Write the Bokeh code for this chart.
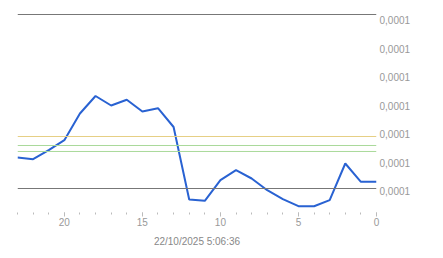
from bokeh.plotting import figure
from bokeh.models import Span, FixedTicker, CustomJSTickFormatter, LinearAxis, Range1d
from bokeh.embed import file_html
from bokeh.resources import INLINE

# data (x = time offset, reversed axis)
x_vals = list(range(23, -1, -1))
y_vals = [8.193e-5, 8.133e-5, 8.449e-5, 8.80e-5, 9.737e-5, 10.351e-5, 10.018e-5, 10.218e-5,
          9.807e-5, 9.923e-5, 9.263e-5, 6.719e-5, 6.674e-5, 7.396e-5, 7.747e-5, 7.456e-5,
          7.046e-5, 6.73e-5, 6.484e-5, 6.484e-5, 6.695e-5, 7.982e-5, 7.340e-5, 7.340e-5]
y_ticks = [7e-5, 8e-5, 9e-5, 10e-5, 11e-5, 12e-5, 13e-5]
x_major = [0, 5, 10, 15, 20]
x_minor = list(range(0, 24))
ref_gray = [13.21e-5, 7.105e-5]
ref_yellow = [8.93e-5]
ref_green = [8.614e-5, 8.404e-5]
x_title = "22/10/2025 5:06:36"

p = figure(width=443, height=258, output_backend="svg", toolbar_location=None,
           x_range=Range1d(23, 0), y_range=Range1d(6.263e-5, 13.526e-5),
           y_axis_location="right", min_border_left=17, min_border_right=67,
           min_border_top=5, min_border_bottom=46)
p.outline_line_color = None
p.xgrid.visible = False
p.ygrid.visible = False

for v in ref_gray:
    p.add_layout(Span(location=v, dimension="width", line_color="#777777", line_width=1))
for v in ref_yellow:
    p.add_layout(Span(location=v, dimension="width", line_color="#e6cf84", line_width=1))
for v in ref_green:
    p.add_layout(Span(location=v, dimension="width", line_color="#a9d99a", line_width=1))

p.line(x_vals, y_vals, line_color="#2962d2", line_width=2)

xa = p.xaxis[0]
xa.ticker = FixedTicker(ticks=x_major, minor_ticks=x_minor)
xa.axis_line_color = None
xa.major_tick_line_color = "#bbbbbb"
xa.minor_tick_line_color = "#bbbbbb"
xa.major_tick_in = 0
xa.major_tick_out = 4
xa.minor_tick_in = 0
xa.minor_tick_out = 2
xa.major_label_text_font = "Liberation Sans"
xa.major_label_text_font_size = "10px"
xa.major_label_text_color = "#999999"
xa.major_label_standoff = 1
xa.axis_label = x_title
xa.axis_label_text_font = "Liberation Sans"
xa.axis_label_text_font_size = "10px"
xa.axis_label_text_font_style = "normal"
xa.axis_label_text_color = "#888888"
xa.axis_label_standoff = 7

ya = p.yaxis[0]
ya.ticker = FixedTicker(ticks=y_ticks)
ya.formatter = CustomJSTickFormatter(code="return tick.toFixed(4).replace('.', ',');")
ya.axis_line_color = None
ya.major_tick_line_color = None
ya.minor_tick_line_color = None
ya.major_tick_out = 0
ya.major_tick_in = 0
ya.major_label_text_font = "Liberation Sans"
ya.major_label_text_font_size = "10px"
ya.major_label_text_color = "#999999"
ya.major_label_standoff = 3

open("out.html", "w").write(file_html(p, INLINE))
